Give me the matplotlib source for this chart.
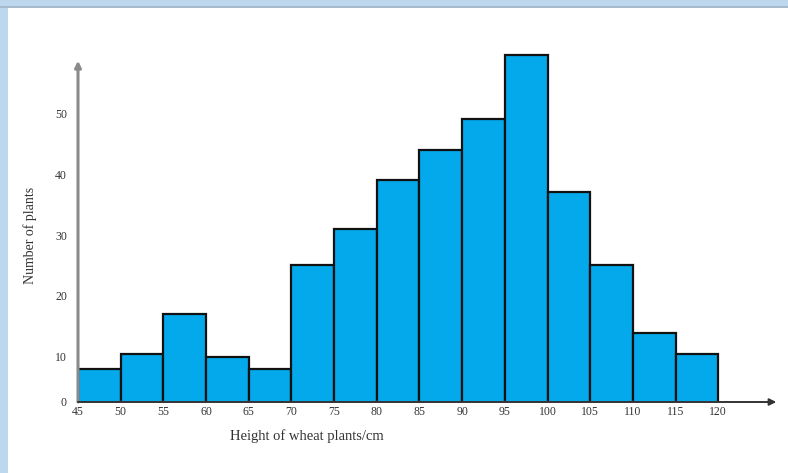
import matplotlib
matplotlib.use("Agg")
import matplotlib.pyplot as plt
from matplotlib.patches import Rectangle

# class edges (cm) and number of plants in each class
bin_edges = [45, 50, 55, 60, 65, 70, 75, 80, 85, 90, 95, 100, 105, 110, 115, 120]
counts = [8, 10.5, 17, 10, 8, 25, 31, 39, 44, 49, 59.5, 37, 25, 14, 10.5]
y_ticks = [10, 20, 30, 40, 50]

plt.rcParams['font.family'] = ['Liberation Serif', 'DejaVu Serif']

fig = plt.figure(figsize=(7.88, 4.73), dpi=100)
W, H = 788, 473

# light blue page frame (left and top)
fig.patches.append(Rectangle((0, 0), 8 / W, 1, transform=fig.transFigure,
                             facecolor='#bdd7ee', edgecolor='none', zorder=0))
fig.patches.append(Rectangle((0, 1 - 6 / H), 1, 6 / H, transform=fig.transFigure,
                             facecolor='#bdd7ee', edgecolor='none', zorder=0))
fig.patches.append(Rectangle((0, 1 - 8 / H), 1, 2 / H, transform=fig.transFigure,
                             facecolor='#a7b9cd', edgecolor='none', zorder=0))

ax = fig.add_axes([78 / W, 1 - 402 / H, 700 / W, 362 / H])
ax.set_facecolor('none')

base = 2.6
widths = [bin_edges[i + 1] - bin_edges[i] for i in range(len(counts))]
ax.bar(bin_edges[:-1], counts, width=widths, align='edge', bottom=0,
       color='#03a9ea', edgecolor='#111111', linewidth=1.6, zorder=2)

ax.set_xlim(45, 127)
ax.set_ylim(base, 62)

for s in ax.spines.values():
    s.set_visible(False)

# axis lines with arrows
ax.annotate('', xy=(45, 58.6), xytext=(45, base), zorder=3,
            arrowprops=dict(arrowstyle='-|>', color='#8a8a8a', lw=2.2,
                            mutation_scale=9, shrinkA=0, shrinkB=0))
ax.annotate('', xy=(126.8, base), xytext=(45, base), zorder=3,
            arrowprops=dict(arrowstyle='-|>', color='#333333', lw=1.4,
                            mutation_scale=10, shrinkA=0, shrinkB=0))

ax.set_xticks(bin_edges)
ax.set_xticklabels([str(e) for e in bin_edges])
ax.set_yticks([base] + y_ticks)
ax.set_yticklabels(['0'] + [str(t) for t in y_ticks])
ax.tick_params(length=0, labelsize=8.5, labelcolor='#333333')
ax.tick_params(axis='x', pad=3)
ax.tick_params(axis='y', pad=8)

ax.text(62.8, -3.0, 'Height of wheat plants/cm', fontsize=10.5, color='#333333',
        ha='left', va='center', clip_on=False)
fig.text(30 / W, 1 - 235 / H, 'Number of plants', rotation=90, fontsize=10,
         color='#333333', ha='center', va='center')

fig.savefig('out.png', dpi=100)
